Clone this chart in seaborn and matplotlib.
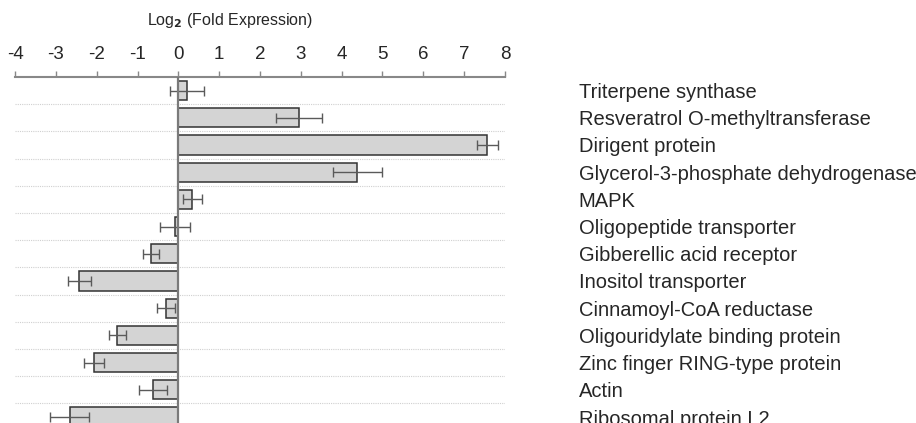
import matplotlib
matplotlib.use("Agg")
import matplotlib.pyplot as plt
import numpy as np
import pandas as pd
import seaborn as sns

genes = [
    "Triterpene synthase",
    "Resveratrol O-methyltransferase",
    "Dirigent protein",
    "Glycerol-3-phosphate dehydrogenase",
    "MAPK",
    "Oligopeptide transporter",
    "Gibberellic acid receptor",
    "Inositol transporter",
    "Cinnamoyl-CoA reductase",
    "Oligouridylate binding protein",
    "Zinc finger RING-type protein",
    "Actin",
    "Ribosomal protein L2",
]
log2_fold = [0.22, 2.95, 7.57, 4.38, 0.34, -0.08, -0.67, -2.43, -0.30, -1.49, -2.07, -0.62, -2.66]
err = [0.42, 0.57, 0.25, 0.60, 0.23, 0.37, 0.20, 0.28, 0.22, 0.20, 0.25, 0.35, 0.48]
xticks = [-4, -3, -2, -1, 0, 1, 2, 3, 4, 5, 6, 7, 8]

df = pd.DataFrame({"gene": genes, "value": log2_fold, "err": err})

sns.set_style("white")
plt.rcParams["font.family"] = ["Liberation Sans", "DejaVu Sans"]

W, H = 916, 423
fig = plt.figure(figsize=(W / 100, H / 100), dpi=100)
ax_top, ax_bot = 77, 430.6
ax = fig.add_axes([15 / W, 1 - ax_bot / H, 490 / W, (ax_bot - ax_top) / H])

sns.barplot(data=df, y="gene", x="value", orient="h", color="#d4d4d4",
            edgecolor="#333333", linewidth=1.1, width=0.7, saturation=1, ax=ax)
ax.errorbar(df["value"], np.arange(len(df)), xerr=df["err"], fmt="none",
            ecolor="#5a5a5a", elinewidth=1, capsize=3.5, capthick=1, zorder=4)

# row separators
for i in range(len(genes) - 1):
    ax.axhline(i + 0.5, color="#d0d0d0", lw=0.8, ls=(0, (1, 1)), zorder=0)
ax.axvline(0, color="#7a7a7a", lw=1.6, zorder=5)

ax.set_xlim(-4, 8)
ax.set_ylim(len(genes) - 0.5, -0.5)
ax.xaxis.tick_top()
ax.set_xticks(xticks)
ax.set_xticklabels([str(t) for t in xticks], fontsize=13.5)
ax.tick_params(axis="x", direction="out", length=4, width=1, color="#888888", pad=6)
ax.set_xlabel("")
ax.set_ylabel("")

ax.yaxis.tick_right()
ax.tick_params(axis="y", length=0, pad=53, labelsize=14.5)
for lab in ax.get_yticklabels():
    lab.set_horizontalalignment("left")

for s in ["left", "right", "bottom"]:
    ax.spines[s].set_visible(False)
ax.spines["top"].set_color("#888888")
ax.spines["top"].set_linewidth(1.5)

fig.text(230 / W, 1 - 20 / H, "Log$_\\mathbf{2}$ (Fold Expression)", ha="center", va="center", fontsize=11.5)

fig.savefig("out.png", dpi=100)
